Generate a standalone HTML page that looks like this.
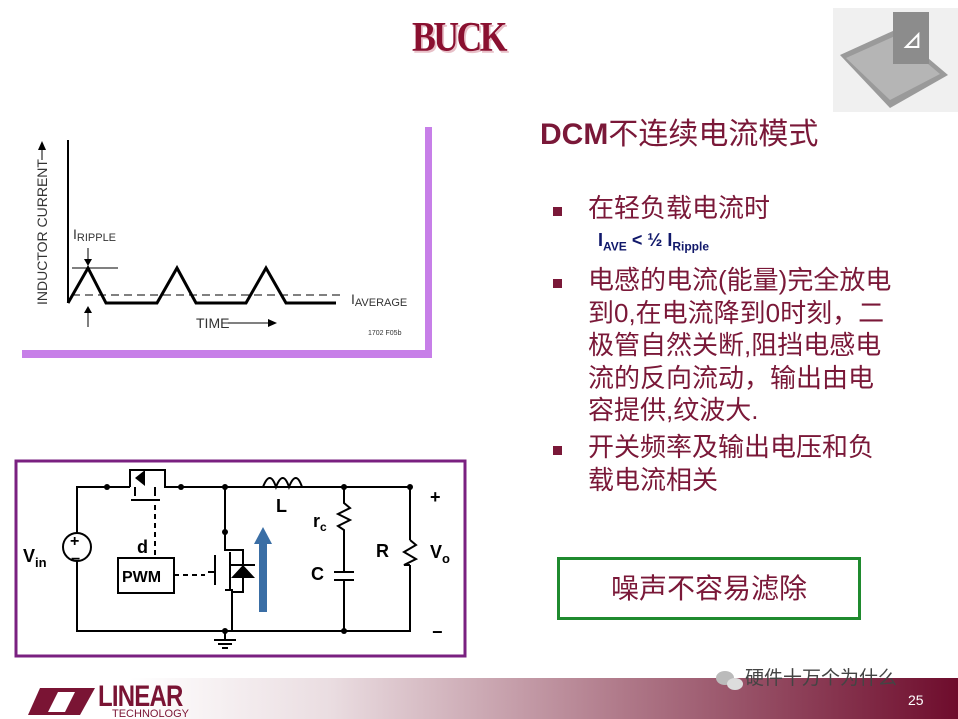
<!DOCTYPE html>
<html><head><meta charset="utf-8"><style>
body{margin:0;width:958px;height:719px;position:relative;overflow:hidden;background:#fff;font-family:"Liberation Sans","Noto Sans CJK SC",sans-serif}
.t{position:absolute;color:#7a1838;font-size:26px;white-space:nowrap;line-height:32.5px}
.b{position:absolute;width:9px;height:9px;background:#7a1838}
</style></head><body>
<div style="position:absolute;left:0;top:678px;width:958px;height:41px;background:linear-gradient(90deg,#fff 0,#fff 130px,#eadde1 330px,#b07a8a 620px,#6e0c2c 958px)"></div>
<div style="position:absolute;left:412px;top:14px;font-family:'Liberation Serif',serif;font-weight:bold;font-size:42px;color:#8a1030;text-shadow:2px 2px 0 #e8c0c8;letter-spacing:-3px;transform:scaleX(0.85);transform-origin:left">BUCK</div>
<svg style="position:absolute;left:0;top:0" width="958" height="719">
<rect x="833" y="8" width="125" height="104" fill="#f0f0f0"/>
<polygon points="840,55 895,30 948,75 890,108" fill="#9a9a9a"/>
<polygon points="846,58 895,36 940,74 890,100" fill="#b5b5b5"/>
<rect x="893" y="12" width="36" height="52" fill="#8c8c8c"/>
<text x="902" y="48" font-size="20" fill="#fff" font-weight="bold">⊿</text>
<!-- graph -->
<rect x="425" y="127" width="7" height="231" fill="#c77fe8"/>
<rect x="22" y="350" width="410" height="8" fill="#c77fe8"/>
<line x1="68" y1="140" x2="68" y2="303" stroke="#000" stroke-width="2"/>
<polyline points="68,303 88,268 106,303 157,303 177,268 196,303 246,303 266,268 286,303 336,303" fill="none" stroke="#000" stroke-width="3"/>
<line x1="72" y1="295" x2="345" y2="295" stroke="#000" stroke-dasharray="8,5"/>
<line x1="72" y1="268" x2="118" y2="268" stroke="#000"/>
<line x1="88" y1="248" x2="88" y2="265" stroke="#000"/><polygon points="84,259 92,259 88,266" fill="#000"/>
<line x1="88" y1="310" x2="88" y2="327" stroke="#000"/><polygon points="84,313 92,313 88,306" fill="#000"/>
<text x="73" y="239" font-size="14" fill="#333">I<tspan font-size="11" dy="2">RIPPLE</tspan></text>
<text x="351" y="304" font-size="14" fill="#333">I<tspan font-size="11" dy="2">AVERAGE</tspan></text>
<text x="196" y="328" font-size="14" fill="#333">TIME</text>
<line x1="228" y1="323" x2="272" y2="323" stroke="#000"/><polygon points="268,319 277,323 268,327" fill="#000"/>
<text x="368" y="335" font-size="7" fill="#333">1702 F05b</text>
<text transform="translate(47,305) rotate(-90)" font-size="14" fill="#333">INDUCTOR CURRENT</text>
<line x1="42" y1="146" x2="42" y2="160" stroke="#000"/><polygon points="38,150 46,150 42,141" fill="#000"/>
<!-- circuit -->
<rect x="16" y="461" width="449" height="195" fill="none" stroke="#7a2080" stroke-width="3"/>
<g stroke="#000" stroke-width="2" fill="none">
<polyline points="77,533 77,487 130,487"/>
<polyline points="130,487 130,470 165,470 165,487 410,487 410,540"/>
<line x1="131" y1="500" x2="160" y2="500"/><line x1="135" y1="496" x2="135" y2="487"/><line x1="155" y1="496" x2="155" y2="487"/>
<polyline points="410,565 410,631 77,631 77,561"/>
<polyline points="225,487 225,550 232,550"/><polyline points="225,590 232,590 232,631"/>
<line x1="230" y1="552" x2="230" y2="590"/>
<polyline points="215,555 215,585"/><polyline points="208,572 215,572"/>
<polyline points="232,550 243,550 243,592 232,592"/>
<path d="M263,487 q7,-18 13,0 q7,-18 13,0 q7,-18 13,0"/>
<polyline points="344,487 344,503 350,508 338,514 350,520 338,526 344,530 344,572"/>
<line x1="334" y1="572" x2="354" y2="572"/><line x1="334" y1="580" x2="354" y2="580"/>
<line x1="344" y1="580" x2="344" y2="631"/>
<polyline points="410,540 416,545 404,552 416,559 404,565 410,565"/>
<circle cx="77" cy="547" r="14"/>
<rect x="118" y="558" width="56" height="35"/>
<line x1="225" y1="631" x2="225" y2="640"/><line x1="214" y1="640" x2="236" y2="640"/><line x1="218" y1="644" x2="232" y2="644"/><line x1="222" y1="648" x2="228" y2="648"/>
</g>
<polygon points="135,478 145,470 145,486" fill="#000"/><polygon points="231,578 243,565 255,578" fill="#000"/><line x1="231" y1="565" x2="255" y2="565" stroke="#000" stroke-width="2"/>
<line x1="155" y1="505" x2="155" y2="557" stroke="#000" stroke-width="2" stroke-dasharray="5,4"/>
<line x1="174" y1="575" x2="205" y2="575" stroke="#000" stroke-width="2" stroke-dasharray="5,4"/>
<g fill="#000"><circle cx="107" cy="487" r="3"/><circle cx="181" cy="487" r="3"/><circle cx="225" cy="487" r="3"/><circle cx="225" cy="532" r="3"/><circle cx="225" cy="631" r="3"/><circle cx="344" cy="487" r="3"/><circle cx="410" cy="487" r="3"/><circle cx="344" cy="631" r="3"/></g>
<rect x="259" y="542" width="8" height="70" fill="#3a6ea5"/><polygon points="254,544 263,527 272,544" fill="#3a6ea5"/>
<g font-weight="bold" font-size="18" fill="#000">
<text x="70" y="546" font-size="16">+</text><text x="71" y="564" font-size="16">−</text>
<text x="23" y="562">V<tspan font-size="13" dy="5">in</tspan></text>
<text x="137" y="553">d</text><text x="122" y="582" font-size="16">PWM</text>
<text x="276" y="512">L</text><text x="313" y="527">r<tspan font-size="12" dy="4">c</tspan></text>
<text x="311" y="580">C</text><text x="376" y="557">R</text>
<text x="430" y="558">V<tspan font-size="13" dy="5">o</tspan></text>
<text x="430" y="503">+</text><text x="432" y="638">−</text>
</g>
<text x="745" y="684" font-size="19" fill="#444" font-family="Noto Sans CJK SC">硬件十万个为什么</text>
<text x="908" y="705" font-size="14" fill="#fff">25</text>
<ellipse cx="725" cy="678" rx="9" ry="7" fill="#bbb"/><ellipse cx="735" cy="684" rx="8" ry="6" fill="#ddd"/>
<polygon points="28,715 40,688 95,688 80,715" fill="#7a1434"/><polygon points="48,712 58,692 75,692 65,712" fill="#fff"/>
<text x="98" y="706" font-size="30" fill="#7a1434" font-weight="bold" transform="scale(0.8,1)" transform-origin="98 706" style="letter-spacing:-1px">LINEAR</text>
<text x="112" y="717" font-size="11" fill="#7a1434">TECHNOLOGY</text>
</svg>
<div class="t" style="left:540px;top:116px;font-size:30px;line-height:38px"><b>DCM</b>不连续电流模式</div>
<div class="b" style="left:553px;top:207px"></div>
<div class="t" style="left:588px;top:192px">在轻负载电流时</div>
<div style="position:absolute;left:598px;top:230px;color:#10186a;font-weight:bold;font-size:18px">I<sub style="font-size:12px">AVE</sub> &lt; ½ I<sub style="font-size:12px">Ripple</sub></div>
<div class="b" style="left:553px;top:279px"></div>
<div class="t" style="left:588px;top:264px">电感的电流(能量)完全放电<br>到0,在电流降到0时刻，二<br>极管自然关断,阻挡电感电<br>流的反向流动，输出由电<br>容提供,纹波大.</div>
<div class="b" style="left:553px;top:446px"></div>
<div class="t" style="left:588px;top:431px">开关频率及输出电压和负<br>载电流相关</div>
<div style="position:absolute;left:557px;top:557px;width:304px;height:63px;border:3px solid #1f8a2e;box-sizing:border-box;text-align:center;line-height:58px;font-size:28px;color:#7a1838">噪声不容易滤除</div>
</body></html>
